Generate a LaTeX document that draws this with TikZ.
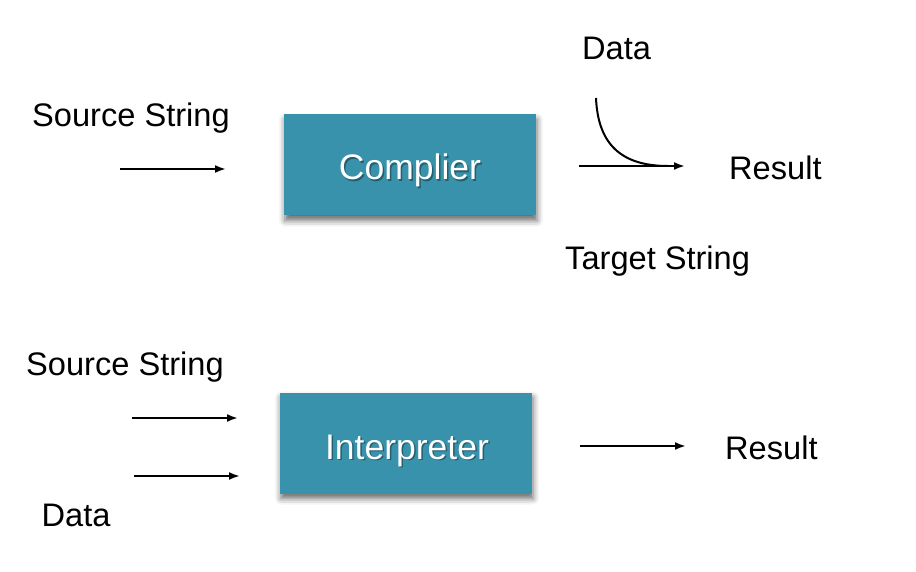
\documentclass[tikz,border=0pt]{standalone}
\usepackage{fontspec}
\setmainfont{Liberation Sans}
\usetikzlibrary{arrows.meta,shadows.blur}
\definecolor{boxteal}{RGB}{56,146,171}
\tikzset{
  lbl/.style={anchor=base west, inner sep=0pt, font=\fontsize{32.6}{38}\selectfont},
  box/.style={fill=boxteal, draw=none, minimum width=252pt, minimum height=101pt, inner sep=0pt,
    blur shadow={shadow xshift=1pt, shadow yshift=-5pt, shadow blur radius=6pt, shadow opacity=60}},
  boxtxt/.style={anchor=base, inner sep=0pt, text=white, font=\fontsize{35.5}{40}\selectfont},
  boxsh/.style={anchor=base, inner sep=0pt, text=black, opacity=0.35, font=\fontsize{35.5}{40}\selectfont},
  arr/.style={line width=2pt, -{Latex[length=11pt,width=8pt]}},
  crv/.style={line width=2pt}
}
\begin{document}
\begin{tikzpicture}[x=1pt,y=-1pt]
\useasboundingbox (0,0) rectangle (916,572);
% top: compiler
\node[box] (comp) at (410,165) {};
\node[boxsh] (compsh) at (411.5,181.5) {Complier};
\node[boxtxt] (comptxt) at (410,180) {Complier};
\node[lbl] (src1) at (32,127) {Source String};
\node[lbl] (data1) at (582,59.5) {Data};
\node[lbl] (res1) at (729,179.5) {Result};
\node[lbl] (tgt) at (565,269.5) {Target String};
\coordinate (a1s) at (120,169);
\coordinate (a1e) at (226,169);
\draw[arr] (a1s) -- (a1e);
\coordinate (a2s) at (579,166);
\coordinate (a2e) at (685,166);
\draw[arr] (a2s) -- (a2e);
\coordinate (cs) at (596,98);
\coordinate (ce) at (668,166);
\draw[crv] (cs) .. controls (598,145) and (622,166) .. (ce);
% bottom: interpreter
\node[box] (interp) at (406,443) {};
\node[boxsh] (interpsh) at (408.5,460.5) {Interpreter};
\node[boxtxt] (interptxt) at (407,459) {Interpreter};
\node[lbl] (src2) at (26,375.5) {Source String};
\node[lbl] (data2) at (41.5,526.5) {Data};
\node[lbl] (res2) at (725,459.3) {Result};
\coordinate (b1s) at (132,418);
\coordinate (b1e) at (238,418);
\draw[arr] (b1s) -- (b1e);
\coordinate (b2s) at (134,476);
\coordinate (b2e) at (240,476);
\draw[arr] (b2s) -- (b2e);
\coordinate (b3s) at (580,446);
\coordinate (b3e) at (686,446);
\draw[arr] (b3s) -- (b3e);
\end{tikzpicture}
\end{document}
